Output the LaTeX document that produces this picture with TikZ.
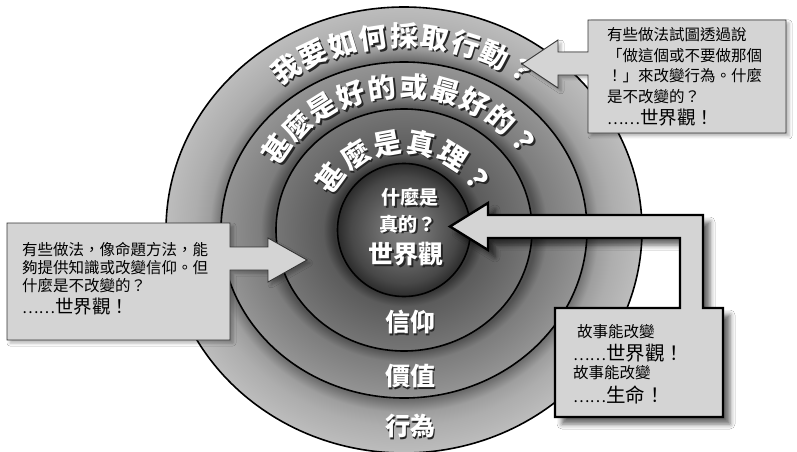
\documentclass[tikz,border=0pt]{standalone}
\usepackage{fontspec}
\newfontfamily\cjk{Noto Sans CJK TC}
\usetikzlibrary{calc,shadows.blur}

\definecolor{oD}{gray}{0.42}
\definecolor{oM}{gray}{0.62}
\definecolor{oN}{gray}{0.68}
\definecolor{oL}{gray}{0.74}
\definecolor{mD}{gray}{0.32}
\definecolor{mM}{gray}{0.49}
\definecolor{mL}{gray}{0.58}
\definecolor{iD}{gray}{0.21}
\definecolor{iM}{gray}{0.36}
\definecolor{iL}{gray}{0.46}
\definecolor{sA}{gray}{0.50}
\definecolor{sB}{gray}{0.44}
\definecolor{sC}{gray}{0.28}
\definecolor{sD}{gray}{0.17}
\definecolor{boxgray}{gray}{0.83}

\pgfdeclareradialshading{outerS}{\pgfpoint{0bp}{0bp}}{color(0bp)=(oD); color(19bp)=(oD); color(20.4bp)=(oM); color(22bp)=(oN); color(25bp)=(oL); color(50bp)=(oL)}
\pgfdeclareradialshading{midS}{\pgfpoint{0bp}{0bp}}{color(0bp)=(mD); color(18bp)=(mD); color(19.6bp)=(mM); color(25bp)=(mL); color(50bp)=(mL)}
\pgfdeclareradialshading{innS}{\pgfpoint{0bp}{0bp}}{color(0bp)=(iD); color(13.7bp)=(iD); color(15.8bp)=(iM); color(25bp)=(iL); color(50bp)=(iL)}
\pgfdeclareradialshading{sphS}{\pgfpoint{0bp}{0bp}}{color(0bp)=(sA); color(8bp)=(sB); color(20bp)=(sC); color(25bp)=(sD); color(50bp)=(sD)}

% white text with a dark drop shadow inside one box: #1,#2 shadow offset (pt), #3 text
\newcommand\ShadowTxt[3]{\makebox[0pt][l]{\hspace{#1pt}\raisebox{#2pt}{\color{black!85}#3}}{\color{white}#3}}

\begin{document}
\begin{tikzpicture}[x=1pt,y=1pt,
  ringtxt/.style={font=\cjk\bfseries\fontsize{28}{28}\selectfont, inner sep=-1pt},
  midtxt/.style={font=\cjk\bfseries\fontsize{25}{25}\selectfont, inner sep=0},
  smalltxt/.style={font=\cjk\bfseries\fontsize{19}{19}\selectfont, inner sep=0},
  body/.style={font=\cjk\fontsize{15.5}{15.5}\selectfont, anchor=west, inner sep=0, text=black},
  callout/.style={fill=boxgray, draw=black!80, line width=0.9, line join=miter,
    blur shadow={shadow xshift=3pt, shadow yshift=-3pt, shadow blur radius=3pt, shadow opacity=30}},
  calloutB/.style={fill=boxgray, draw=black, line width=2.4, line join=miter,
    blur shadow={shadow xshift=7pt, shadow yshift=-7pt, shadow blur radius=5pt, shadow opacity=60}},
  ringline/.style={draw=black, line width=1.6}
]
\useasboundingbox (0,0) rectangle (797,451);
\fill[white] (0,0) rectangle (797,451);
\coordinate (C) at (404,221);

% rings
\shadedraw[shading=outerS, ringline] (C) ellipse [x radius=238, y radius=223];
\shadedraw[shading=midS, ringline] (C) ellipse [x radius=183, y radius=168];
\shadedraw[shading=innS, ringline] (C) ellipse [x radius=128, y radius=121];
\shadedraw[shading=sphS, ringline] (C) ellipse [x radius=66.5, y radius=66.5];

% arched texts
\foreach \ch [count=\i from 0] in {我,要,如,何,採,取,行,動,？}{
  \pgfmathsetmacro\ang{124-\i*8.5}
  \pgfmathsetmacro\dx{1.7*(cos(\ang-90)-sin(\ang-90))}
  \pgfmathsetmacro\dy{-1.7*(sin(\ang-90)+cos(\ang-90))}
  \node[ringtxt, rotate=\ang-90] (ot\i) at ($(C)+(\ang:210 and 193)$) {\ShadowTxt{\dx}{\dy}{\ch}};
}
\foreach \ch [count=\i from 0] in {甚,麼,是,好,的,或,最,好,的,？}{
  \pgfmathsetmacro\ang{145.8-\i*11.9}
  \pgfmathsetmacro\dx{1.7*(cos(\ang-90)-sin(\ang-90))}
  \pgfmathsetmacro\dy{-1.7*(sin(\ang-90)+cos(\ang-90))}
  \node[ringtxt, rotate=\ang-90] (mt\i) at ($(C)+(\ang:153 and 143)$) {\ShadowTxt{\dx}{\dy}{\ch}};
}
\foreach \ch [count=\i from 0] in {甚,麼,是,真,理,？}{
  \pgfmathsetmacro\ang{143.6-\i*21.56}
  \pgfmathsetmacro\dx{1.7*(cos(\ang-90)-sin(\ang-90))}
  \pgfmathsetmacro\dy{-1.7*(sin(\ang-90)+cos(\ang-90))}
  \node[ringtxt, rotate=\ang-90] (nt\i) at ($(C)+(\ang:91 and 87)$) {\ShadowTxt{\dx}{\dy}{\ch}};
}

% centre texts
\node[smalltxt] (q1) at (410,253) {\ShadowTxt{1.5}{-1.5}{什麼是}};
\node[smalltxt] (q2) at (408,226) {\ShadowTxt{1.5}{-1.5}{真的？}};
\node[midtxt] (wv) at (406,196) {\ShadowTxt{1.7}{-1.7}{世界觀}};
\node[midtxt] (be) at (410,128) {\ShadowTxt{1.7}{-1.7}{信仰}};
\node[midtxt] (va) at (410,74) {\ShadowTxt{1.7}{-1.7}{價值}};
\node[midtxt] (ac) at (410,24) {\ShadowTxt{1.7}{-1.7}{行為}};

% top-right callout
\draw[callout] (588,431) -- (786,431) -- (786,318) -- (588,318) -- (588,376)
  -- (558,376) -- (558,363) -- (522,387) -- (558,411) -- (558,399) -- (588,399) -- cycle;
\node[body] (tr1) at (607,416) {有些做法試圖透過說};
\node[body] (tr2) at (607,395.5) {「做這個或不要做那個};
\node[body] (tr3) at (607,375) {！」來改變行為。什麼};
\node[body] (tr4) at (607,354.5) {是不改變的？};
\node[body] (tr5) at (607,333) {……{\fontsize{18.5}{18.5}\selectfont 世界觀！}};

% left callout
\draw[callout] (7,228) -- (230,228) -- (230,204) -- (268,204) -- (268,213) -- (307,191)
  -- (268,169) -- (268,181) -- (230,181) -- (230,111) -- (7,111) -- cycle;
\node[body] (l1) at (22,201) {有些做法，像命題方法，能};
\node[body] (l2) at (22,183.5) {夠提供知識或改變信仰。但};
\node[body] (l3) at (22,165.5) {什麼是不改變的？};
\node[body] (l4) at (22,144) {……{\fontsize{18.5}{18.5}\selectfont 世界觀！}};

% bottom-right callout
\draw[calloutB] (555,143) -- (680,143) -- (680,213) -- (488,213) -- (488,201) -- (450,224.5)
  -- (488,248) -- (488,236) -- (703,236) -- (703,143) -- (723,143) -- (723,34) -- (555,34) -- cycle;
\node[body] (b1) at (577,119) {故事能改變};
\node[body] (b2) at (573,98) {……{\fontsize{19.5}{19.5}\selectfont 世界觀！}};
\node[body] (b3) at (573,78) {故事能改變};
\node[body] (b4) at (573,56) {……{\fontsize{19.5}{19.5}\selectfont 生命！}};
\end{tikzpicture}
\end{document}
